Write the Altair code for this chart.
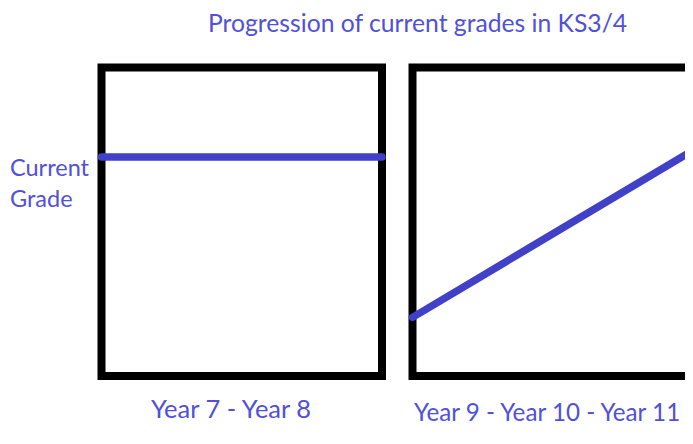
import altair as alt
import pandas as pd

# ---- data ----
years_ks3 = [7, 8]
grades_ks3 = [7.1, 7.1]
years_ks4 = [9, 11]
grades_ks4 = [1.9, 7.5]
grade_domain = [0, 10]
ks3_span = [7, 8]
ks4_span = [9, 11]

title_text = "Progression of current grades in KS3/4"
y_title = ["Current", "Grade"]
ks3_label = "Year 7 - Year 8"
ks4_label = "Year 9 - Year 10 - Year 11"

# ---- style ----
TEXT = "#5050dc"
LINE = "#4040c8"
FONT = "Lato"
BORDER = 8
W, H = 677, 360.5

df3 = pd.DataFrame({"year": years_ks3, "grade": grades_ks3})
df4 = pd.DataFrame({"year": years_ks4, "grade": grades_ks4})
f3 = pd.DataFrame({"start": [ks3_span[0]], "end": [ks3_span[1]],
                   "lo": [grade_domain[0]], "hi": [grade_domain[1]]})
f4 = pd.DataFrame({"start": [ks4_span[0]], "end": [ks4_span[1]],
                   "lo": [grade_domain[0]], "hi": [grade_domain[1]]})
one = pd.DataFrame({"k": [0]})

x3 = alt.Scale(domain=ks3_span, range=[93.5, 374], nice=False, zero=False)
x4 = alt.Scale(domain=ks4_span, range=[404.5, 694.5], nice=False, zero=False)
ys = alt.Scale(domain=grade_domain, range=[308.5, 0], nice=False, zero=False)

frame3 = alt.Chart(f3).mark_rect(fillOpacity=0, stroke="black", strokeWidth=BORDER).encode(
    x=alt.X("start:Q", scale=x3, axis=None), x2="end:Q",
    y=alt.Y("lo:Q", scale=ys, axis=None), y2="hi:Q")
line3 = alt.Chart(df3).mark_line(color=LINE, strokeWidth=7.5, strokeCap="round").encode(
    x=alt.X("year:Q", scale=x3, axis=None),
    y=alt.Y("grade:Q", scale=ys, axis=None))

frame4 = alt.Chart(f4).mark_rect(fillOpacity=0, stroke="black", strokeWidth=BORDER).encode(
    x=alt.X("start:Q", scale=x4, axis=None), x2="end:Q",
    y=alt.Y("lo:Q", scale=ys, axis=None), y2="hi:Q")
line4 = alt.Chart(df4).mark_line(color=LINE, strokeWidth=7.5, strokeCap="round").encode(
    x=alt.X("year:Q", scale=x4, axis=None),
    y=alt.Y("grade:Q", scale=ys, axis=None))

ylab = alt.Chart(one).mark_text(align="left", baseline="alphabetic", font=FONT,
                                fontSize=23.5, color=TEXT, lineHeight=31).encode(
    x=alt.value(2), y=alt.value(108.5), text=alt.value(y_title))
lab3 = alt.Chart(one).mark_text(align="center", baseline="alphabetic", font=FONT,
                                fontSize=25.5, color=TEXT).encode(
    x=alt.value(223), y=alt.value(350), text=alt.value(ks3_label))
lab4 = alt.Chart(one).mark_text(align="left", baseline="alphabetic", font=FONT,
                                fontSize=24.2, color=TEXT).encode(
    x=alt.value(406), y=alt.value(353.5), text=alt.value(ks4_label))

chart = alt.layer(frame3, frame4, line3, line4, ylab, lab3, lab4).resolve_scale(
    x="independent"
).properties(
    width=W, height=H,
    title=alt.TitleParams(title_text, anchor="start", frame="group", orient="top",
                          dx=200, offset=7, baseline="alphabetic", font=FONT,
                          fontSize=24.7, color=TEXT, fontWeight="normal"),
    padding={"left": 0, "top": 59.5, "right": 0, "bottom": 0},
    autosize=alt.AutoSizeParams(type="none"),
).configure_view(strokeWidth=0)

chart.save("out.html", embed_options={"renderer": "svg", "actions": False})
